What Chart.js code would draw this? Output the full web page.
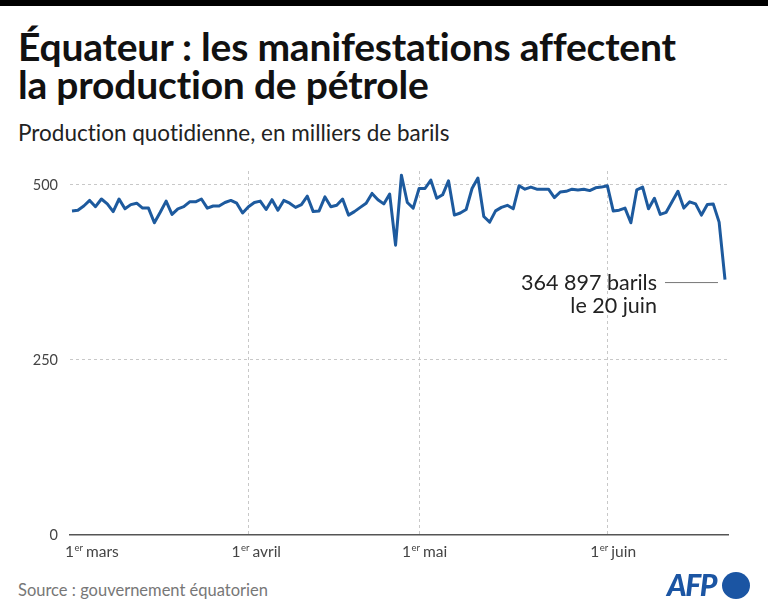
<!DOCTYPE html>
<html lang="fr">
<head>
<meta charset="utf-8">
<script src="https://cdn.jsdelivr.net/npm/chart.js@4/dist/chart.umd.min.js"></script>
<style>
  html, body { margin: 0; padding: 0; background: #fff; }
  body { width: 768px; height: 611px; position: relative; overflow: hidden; font-family: Lato, 'Noto Sans', sans-serif; color: #111; font-variant-ligatures: none; font-feature-settings: "liga" 0, "clig" 0, "dlig" 0; }
  .topbar { position: absolute; left: 0; top: 0; width: 768px; height: 6px; background: #000; }
  h1 { position: absolute; left: 18px; top: 27px; margin: 0; font-size: 39px; line-height: 38px; font-weight: 700; white-space: nowrap; letter-spacing: -0.2px; }
  .sub { position: absolute; left: 18px; top: 120px; font-size: 22.5px; line-height: 26px; color: #222; }
  .src { position: absolute; left: 18px; top: 582px; font-size: 16.5px; line-height: 16px; color: #777; }
  .chart-box { position: absolute; left: 0; top: 150px; width: 768px; height: 420px; }
  .afp { position: absolute; left: 667px; top: 568px; font-size: 30px; line-height: 32px; font-weight: 900; font-style: italic; color: #1b55a3; letter-spacing: -1.5px; }
  .afp-dot { position: absolute; left: 722px; top: 572px; width: 28px; height: 27px; border-radius: 50%; background: #1b55a3; }
</style>
</head>
<body>
<div class="topbar"></div>
<h1>Équateur : les manifestations affectent<br>la production de pétrole</h1>
<div class="sub">Production quotidienne, en milliers de barils</div>
<div class="chart-box"><canvas id="chart"></canvas></div>
<div class="src">Source : gouvernement équatorien</div>
<div class="afp">AFP</div>
<div class="afp-dot"></div>

<script>
// ---------------------------------------------
// données : production quotidienne, 1er mars -> 20 juin (milliers de barils)
// ---------------------------------------------
const production = [
  463, 464, 470, 478, 469, 480, 473, 462, 480, 466, 472, 474, 467, 467, 446, 461, 477, 458, 466, 469, 476,
  476, 480, 467, 470, 470, 475, 478, 474, 460, 469, 475, 477, 465, 479, 464, 478, 474, 468, 472, 484,
  462, 463, 483, 469, 471, 480, 457, 462, 468, 474, 488, 479, 473, 487, 414, 514, 475, 467, 495, 495, 507,
  481, 486, 506, 457, 460, 465, 495, 510, 455, 447, 463, 468, 471, 466, 499, 494, 497, 494, 494, 494,
  482, 490, 491, 494, 493, 494, 492, 496, 497, 499, 463, 464, 467, 446, 493, 497, 466, 481, 458, 461, 476,
  491, 467, 476, 473, 457, 472, 473, 447, 364.897
]

// repères de mois (position dans la série) et libellés
const monthTickIdx   = [0, 30, 59, 91]
const monthNames     = ['mars', 'avril', 'mai', 'juin']
const yTicks         = [0, 250, 500]
const lastLabel      = ['364 897 barils', 'le 20 juin']

const LINE_COLOR = '#1d5a9e'
const GRID_COLOR = '#c8c8c8'
const TEXT_COLOR = '#444'

// ---------------------------------------------
// libellés de l'axe x avec « er » en exposant
// ---------------------------------------------
const monthLabels = {
  id: 'monthLabels',
  afterDraw(chart) {
    const { ctx, chartArea, scales: { x } } = chart
    ctx.save()
    ctx.fillStyle = TEXT_COLOR
    ctx.textBaseline = 'alphabetic'
    ctx.textAlign = 'left'
    const base = chartArea.bottom + 22
    monthTickIdx.forEach((idx, i) => {
      const px = x.getPixelForValue(idx)
      let cx = i === 0 ? px - 7 : px - 17
      ctx.font = '15.5px Lato, sans-serif'
      ctx.fillText('1', cx, base)
      cx += ctx.measureText('1').width + 0.5
      ctx.font = '9.5px Lato, sans-serif'
      ctx.fillText('er', cx, base - 6)
      cx += ctx.measureText('er').width + 3
      ctx.font = '15.5px Lato, sans-serif'
      ctx.fillText(monthNames[i], cx, base)
    })
    ctx.restore()
  }
}

// ---------------------------------------------
// annotation du dernier point
// ---------------------------------------------
const lastPointNote = {
  id: 'lastPointNote',
  afterDatasetsDraw(chart) {
    const { ctx } = chart
    const meta = chart.getDatasetMeta(0)
    const pt = meta.data[meta.data.length - 1]
    if (!pt) return
    ctx.save()
    ctx.strokeStyle = '#777'
    ctx.lineWidth = 1
    ctx.beginPath()
    ctx.moveTo(pt.x - 60, pt.y + 3)
    ctx.lineTo(pt.x - 7, pt.y + 3)
    ctx.stroke()
    ctx.fillStyle = '#222'
    ctx.font = '21.5px Lato, sans-serif'
    ctx.textAlign = 'right'
    ctx.textBaseline = 'alphabetic'
    ctx.fillText(lastLabel[0], pt.x - 68, pt.y + 10)
    ctx.fillText(lastLabel[1], pt.x - 68, pt.y + 33)
    ctx.restore()
  }
}

new Chart(document.getElementById('chart'), {
  type: 'line',
  data: {
    datasets: [{
      data: production.map((v, i) => ({ x: i, y: v })),
      borderColor: LINE_COLOR,
      borderWidth: 3,
      borderJoinStyle: 'round',
      pointRadius: 0,
      tension: 0,
      fill: false
    }]
  },
  options: {
    responsive: true, maintainAspectRatio: false,
    animation: false,
    layout: { padding: { top: 21, right: 40, left: 0, bottom: 0 } },
    plugins: { legend: { display: false }, tooltip: { enabled: false } },
    scales: {
      x: {
        type: 'linear',
        min: -0.34, max: 111.51,
        afterBuildTicks: s => { s.ticks = monthTickIdx.map(v => ({ value: v })) },
        afterFit: s => { s.height = 35 },
        ticks: { display: false },
        grid: {
          drawTicks: false,
          color: ctx => ctx.tick && ctx.tick.value === 0 ? 'rgba(0,0,0,0)' : GRID_COLOR,
          lineWidth: 1
        },
        border: { display: true, color: '#555', width: 1.5, dash: [3, 3] }
      },
      y: {
        min: 0, max: 520,
        afterBuildTicks: s => { s.ticks = yTicks.map(v => ({ value: v })) },
        afterFit: s => { s.width = 70 },
        ticks: {
          color: TEXT_COLOR, padding: 12,
          font: { family: 'Lato, sans-serif', size: 14.5 }
        },
        grid: {
          drawTicks: false,
          color: ctx => ctx.tick && ctx.tick.value === 0 ? 'rgba(0,0,0,0)' : GRID_COLOR,
          lineWidth: 1
        },
        border: { display: false, dash: [3, 3] }
      }
    }
  },
  plugins: [monthLabels, lastPointNote]
})
</script>
</body>
</html>
